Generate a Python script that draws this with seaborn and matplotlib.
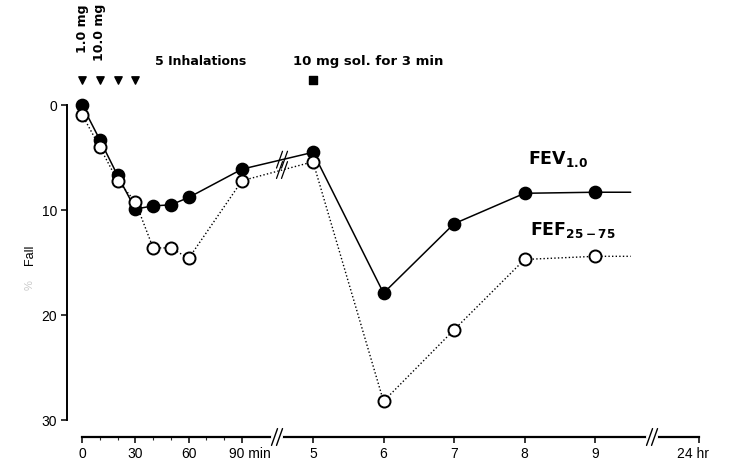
import numpy as np
import pandas as pd
import matplotlib
matplotlib.use("Agg")
import matplotlib.pyplot as plt
import matplotlib.transforms as mtransforms
import seaborn as sns

# ---------------- data ----------------
# time after start, in minutes (5 h = 300 min ...)
times_min = [0, 10, 20, 30, 40, 50, 60, 90, 300, 360, 420, 480, 540]
fev_fall = [0.0, 3.3, 6.7, 9.9, 9.6, 9.5, 8.8, 6.1, 4.5, 17.9, 11.3, 8.4, 8.3]
fef_fall = [0.9, 4.0, 7.2, 9.2, 13.6, 13.6, 14.6, 7.2, 5.4, 28.2, 21.4, 14.7, 14.4]
tail_time = 570          # line trails on (no marker) toward the break
fev_tail = 8.3
fef_tail = 14.4

inhalation_times = [0, 10, 20, 30]
solution_time = [300]
dose_labels = ["1.0 mg", "10.0 mg"]

xtick_vals = [0, 30, 60, 90, 300, 360, 420, 480, 540, 1440]
xtick_labels = ["0", "30", "60", "90 min", "5", "6", "7", "8", "9", "24 hr"]
ytick_vals = [0, 10, 20, 30]
break_times = [193.5, 588]

# ---------------- broken time scale ----------------
_t = [-100, 0, 90, 300, 540, 588, 1440, 3000]
_p = [-177.8, 0, 160, 231, 513, 570, 617, 703]


def fwd(t):
    return np.interp(t, _t, _p)


def inv(p):
    return np.interp(p, _p, _t)


sns.set_theme(style="ticks")
plt.rcParams["font.family"] = ["Liberation Sans", "DejaVu Sans"]
plt.rcParams["mathtext.fontset"] = "dejavusans"

fig = plt.figure(figsize=(7.54, 4.70), dpi=100)
ax = fig.add_axes([67 / 754, 1 - 437 / 470, (740 - 67) / 754, 437 / 470])
ax.set_xscale("function", functions=(fwd, inv))

df_fev = pd.DataFrame({"t": times_min + [tail_time], "v": fev_fall + [fev_tail]})
df_fef = pd.DataFrame({"t": times_min + [tail_time], "v": fef_fall + [fef_tail]})

# lines
sns.lineplot(data=df_fev, x="t", y="v", ax=ax, color="black", lw=1.1,
             estimator=None, sort=False, zorder=2)
sns.lineplot(data=df_fef, x="t", y="v", ax=ax, color="black", lw=1.0,
             linestyle=(0, (1, 1.6)), estimator=None, sort=False, zorder=2)
# markers
pts_fev = pd.DataFrame({"t": times_min, "v": fev_fall})
pts_fef = pd.DataFrame({"t": times_min, "v": fef_fall})
sns.scatterplot(data=pts_fev, x="t", y="v", ax=ax, color="black", s=75,
                edgecolor="black", linewidth=1.2, zorder=3, clip_on=False)
sns.scatterplot(data=pts_fef, x="t", y="v", ax=ax, color="white", s=75,
                edgecolor="black", linewidth=1.4, zorder=4, clip_on=False)

ax.set_ylim(31.6, -10.0)
ax.set_xlim(-8.44, 2183)
ax.set_xlabel("")
ax.set_ylabel("")

# spines
for s in ["top", "right"]:
    ax.spines[s].set_visible(False)
ax.spines["left"].set_bounds(0, 30)
ax.spines["bottom"].set_bounds(0, 1440)
ax.spines["left"].set_linewidth(1.4)
ax.spines["bottom"].set_linewidth(1.6)
ax.spines["left"].set_color("black")
ax.spines["bottom"].set_color("black")

ax.set_yticks(ytick_vals)
ax.set_yticklabels([str(v) for v in ytick_vals])
ax.set_xticks(xtick_vals)
ax.set_xticklabels(xtick_labels)
ax.set_xticks([10, 20, 40, 50, 70, 80], minor=True)
ax.tick_params(axis="both", direction="out", length=4, width=1.1,
               colors="black", labelsize=10, pad=3)
ax.tick_params(axis="x", which="minor", length=2.5, width=0.8)
shifts = {"90 min": 8, "24 hr": -6}
for lab in ax.get_xticklabels():
    dx = shifts.get(lab.get_text())
    if dx:
        lab.set_transform(lab.get_transform() +
                          mtransforms.ScaledTranslation(dx / 100, 0, fig.dpi_scale_trans))

# axis breaks
for bt in break_times:
    p = fwd(bt)
    ax.plot([inv(p - 4), inv(p + 4)], [31.6, 31.6], color="white", lw=3,
            clip_on=False, zorder=5)
    for d in (-2.5, 2.5):
        ax.plot([inv(p + d - 3), inv(p + d + 3)], [32.4, 30.8], color="black",
                lw=1.0, clip_on=False, zorder=6)

# breaks on the data lines between 90 min and 5 h
bp = fwd(break_times[0]) + 5
for series in (fev_fall, fef_fall):
    yv = np.interp(bp, fwd(np.array(times_min)), series)
    for d in (-2.5, 2.5):
        ax.plot([inv(bp + d - 3), inv(bp + d + 3)], [yv + 0.8, yv - 0.8],
                color="black", lw=0.9, zorder=6)

# y label
ax.text(-0.055, 1 - 255 / 437, "Fall", rotation=90,
        transform=ax.transAxes, ha="center", va="center", fontsize=9,
        color="black")
ax.text(-0.055, 1 - 285 / 437, "%", rotation=90, transform=ax.transAxes,
        ha="center", va="center", fontsize=8, color="#c8c8c8")

# inhalation markers and annotations
ax.scatter(inhalation_times, [-2.4] * len(inhalation_times), marker="v",
           s=28, color="black", zorder=5, clip_on=False)
ax.scatter(solution_time, [-2.4], marker="s", s=26, color="black", zorder=5,
           clip_on=False)
for tt, lab in zip(inhalation_times[:2], dose_labels):
    ax.text(tt, -9.6, lab, rotation=90, ha="center", va="top", fontsize=9,
            fontweight="bold", family="DejaVu Sans", color="black")
ax.text(41, -4.1, "5 Inhalations", ha="left", va="center", fontsize=9,
        fontweight="bold", family="DejaVu Sans", color="black")
ax.text(241, -4.1, "10 mg sol. for 3 min", ha="left", va="center",
        fontsize=9.5, fontweight="bold", family="DejaVu Sans", color="black")

# series labels
ax.text(483, 5.6, r"FEV$_{\mathbf{1.0}}$", ha="left", va="baseline",
        fontsize=12.5, fontweight="bold", family="DejaVu Sans", color="black")
ax.text(485, 12.4, r"FEF$_{\mathbf{25-75}}$", ha="left", va="baseline",
        fontsize=12.5, fontweight="bold", family="DejaVu Sans", color="black")

fig.savefig("out.png", dpi=100, facecolor="white")
